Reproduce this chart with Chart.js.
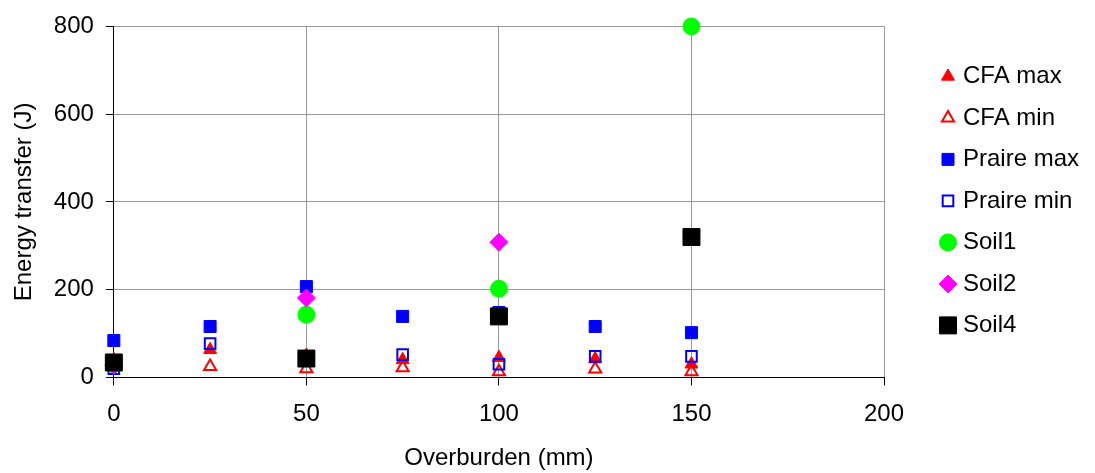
<!DOCTYPE html>
<html>
<head>
<meta charset="utf-8">
<title>Energy transfer vs overburden</title>
<script src="https://cdn.jsdelivr.net/npm/chart.js@4/dist/chart.umd.min.js"></script>
<style>
  html, body { margin: 0; padding: 0; background: #fff; }
  #box { width: 1095px; height: 473px; }
</style>
</head>
<body>
<div id="box"><canvas id="grafico"></canvas></div>
<script>
  // valores (J) por sobrecarga (mm)
  const overburden = [0, 25, 50, 75, 100, 125, 150];
  const cfaMax = [40, 63, 50, 40, 45, 42, 30];
  const cfaMin = [25, 25, 20, 22, 13, 19, 13];
  const praireMax = [84, 116, 207, 139, 148, 116, 102];
  const praireMin = [20, 77, 40, 52, 30, 48, 48];

  const soilOverburden = [0, 50, 100, 150];
  const soil1 = [30, 143, 202, 800];
  const soil2 = [28, 181, 308];
  const soil4 = [34, 43, 139, 320];

  const xTicks = [0, 50, 100, 150, 200];
  const yTicks = [0, 200, 400, 600, 800];

  const FONTE = "'Liberation Sans', Arial, sans-serif";
  const VERMELHO = '#FF0000';
  const AZUL = '#0000FF';
  const VERDE = '#00FF00';
  const MAGENTA = '#FF00FF';
  const PRETO = '#000000';
  const GRADE = '#999999';

  function pares(xs, ys) {
    return ys.map(function (y, i) { return { x: xs[i], y: y }; });
  }

  // ordem: séries posteriores ficam por cima (como no Excel)
  function serie(label, data, estilo, cor, fundo, raio, borda, ordem) {
    return {
      label: label, data: data,
      pointStyle: estilo, borderColor: cor, backgroundColor: fundo,
      pointRadius: raio, pointHoverRadius: raio, pointBorderWidth: borda,
      showLine: false, clip: false, order: ordem
    };
  }

  // legenda à direita, desenhada à mão para casar posição e marcadores
  const legendaLateral = {
    id: 'legendaLateral',
    afterDraw: function (chart) {
      const ctx = chart.ctx;
      const area = chart.chartArea;
      const sets = chart.data.datasets;
      const passo = 41.5;
      const y0 = (area.top + area.bottom) / 2 - passo * (sets.length - 1) / 2 - 1;
      ctx.save();
      ctx.font = '24px ' + FONTE;
      ctx.textBaseline = 'middle';
      ctx.textAlign = 'left';
      sets.forEach(function (ds, i) {
        const y = y0 + i * passo;
        ctx.fillStyle = ds.backgroundColor;
        ctx.strokeStyle = ds.borderColor;
        ctx.lineWidth = ds.pointBorderWidth;
        Chart.helpers.drawPoint(ctx, {
          pointStyle: ds.pointStyle, radius: ds.pointRadius, rotation: 0, borderWidth: ds.pointBorderWidth
        }, area.right + 64, y);
        ctx.fillStyle = '#000';
        ctx.fillText(ds.label, area.right + 79, y);
      });
      ctx.restore();
    }
  };

  Chart.defaults.font.family = FONTE;
  Chart.defaults.color = '#000';

  new Chart(document.getElementById('grafico'), {
    type: 'scatter',
    data: {
      datasets: [
        serie('CFA max', pares(overburden, cfaMax), 'triangle', VERMELHO, VERMELHO, 7.5, 1, 6),
        serie('CFA min', pares(overburden, cfaMin), 'triangle', VERMELHO, 'rgba(255,255,255,0)', 7, 2, 5),
        serie('Praire max', pares(overburden, praireMax), 'rect', AZUL, AZUL, 8.5, 1, 4),
        serie('Praire min', pares(overburden, praireMin), 'rect', AZUL, 'rgba(255,255,255,0)', 7.5, 2, 3),
        serie('Soil1', pares(soilOverburden, soil1), 'circle', VERDE, VERDE, 8.5, 1, 2),
        serie('Soil2', pares(soilOverburden, soil2), 'rectRot', MAGENTA, MAGENTA, 9, 1, 1),
        serie('Soil4', pares(soilOverburden, soil4), 'rect', PRETO, PRETO, 12, 1, 0)
      ]
    },
    options: {
      responsive: true, maintainAspectRatio: false, animation: false,
      layout: { padding: { left: 4, right: 211, top: 20, bottom: 0 } },
      plugins: {
        tooltip: { enabled: false },
        legend: { display: false }
      },
      scales: {
        x: {
          type: 'linear', min: 0, max: 200,
          afterBuildTicks: function (axis) { axis.ticks = xTicks.map(function (v) { return { value: v }; }); },
          grid: { color: GRADE, tickColor: PRETO, tickLength: 8 },
          border: { color: PRETO, width: 1 },
          ticks: { padding: 15, font: { size: 24 }, color: '#000' },
          title: { display: true, text: 'Overburden (mm)', font: { size: 24 }, color: '#000', padding: { top: 0, bottom: 0 } }
        },
        y: {
          type: 'linear', min: 0, max: 800,
          afterBuildTicks: function (axis) { axis.ticks = yTicks.map(function (v) { return { value: v }; }); },
          grid: { color: GRADE, tickColor: PRETO, tickLength: 8 },
          border: { color: PRETO, width: 1 },
          ticks: { padding: 12, font: { size: 24 }, color: '#000' },
          title: { display: true, text: 'Energy transfer (J)', font: { size: 24 }, color: '#000', padding: { top: 6, bottom: 3 } }
        }
      }
    },
    plugins: [legendaLateral]
  });
</script>
</body>
</html>
